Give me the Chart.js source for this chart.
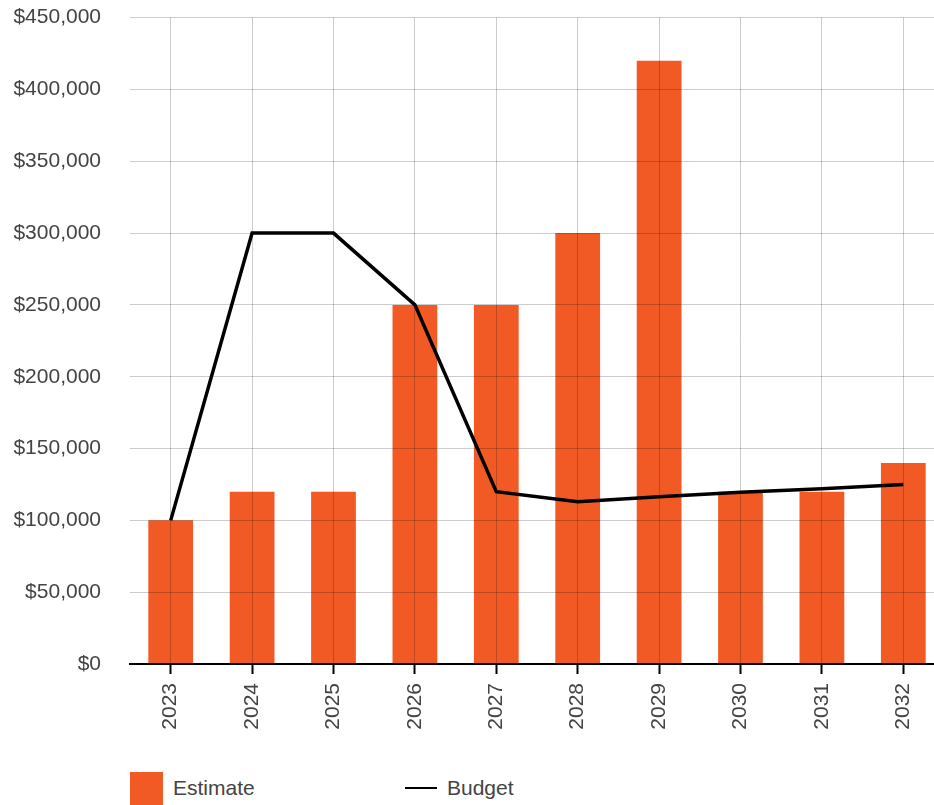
<!DOCTYPE html>
<html>
<head>
<meta charset="utf-8">
<script src="https://cdn.jsdelivr.net/npm/chart.js@4/dist/chart.umd.min.js"></script>
<style>
    html, body { margin: 0; padding: 0; overflow: hidden; background: #fff; }
    #wrap { position: absolute; left: 0; top: -24px; width: 944px; height: 784px; }
    .legend-item { position: absolute; font: 21px "Liberation Sans", Arial, sans-serif; color: #444; line-height: 24px; }
    .swatch { position: absolute; }
</style>
</head>
<body>
<div id="wrap"><canvas id="chart" width="944" height="784"></canvas></div>
<div id="legend"></div>
<script>
const years = ['2023', '2024', '2025', '2026', '2027', '2028', '2029', '2030', '2031', '2032'];
const estimate = [100000, 120000, 120000, 250000, 250000, 300000, 420000, 120000, 120000, 140000];
const budget = [100000, 300000, 300000, 250000, 120000, 113000, 116500, 119500, 122000, 125000];
const yTicks = [0, 50000, 100000, 150000, 200000, 250000, 300000, 350000, 400000, 450000];

const orange = '#f15a24';
const gridColor = 'rgba(0,0,0,0.2)';
const textColor = '#444';
const font = { family: '"Liberation Sans", Arial, sans-serif', size: 21 };

const chart = new Chart(document.getElementById('chart'), {
    type: 'bar',
    data: {
        labels: years,
        datasets: [
            {
                type: 'line',
                label: 'Budget',
                data: budget,
                borderColor: '#000',
                borderWidth: 3.5,
                pointRadius: 0,
                tension: 0,
                order: 0
            },
            {
                label: 'Estimate',
                data: estimate,
                backgroundColor: orange,
                barPercentage: 0.55,
                categoryPercentage: 1,
                order: 1
            }
        ]
    },
    options: {
        responsive: false,
        animation: false,
        layout: { padding: { top: 17, right: 0, left: 0, bottom: 0 } },
        plugins: { legend: { display: false }, tooltip: { enabled: false } },
        scales: {
            x: {
                offset: true,
                grid: { offset: false, color: gridColor, z: 1, tickLength: 10, tickColor: '#000', tickWidth: 2 },
                border: { color: '#000', width: 2, z: 1 },
                ticks: { color: textColor, font, minRotation: 90, maxRotation: 90, padding: 9 },
                afterFit: s => { s.height = 96; }
            },
            y: {
                min: 0,
                max: 450000,
                afterBuildTicks: s => { s.ticks = yTicks.map(v => ({ value: v })); },
                grid: { color: gridColor, z: 1, drawTicks: false },
                border: { display: false },
                ticks: {
                    color: textColor,
                    font,
                    padding: 29,
                    callback: v => '$' + v.toLocaleString('en-US')
                },
                afterFit: s => { s.width = 130; }
            }
        }
    }
});

// legend built from the dataset labels
const legend = document.getElementById('legend');
legend.innerHTML = `
    <div class="swatch" style="left:130px;top:772px;width:33px;height:33px;background:${orange}"></div>
    <div class="legend-item" style="left:173px;top:776px">${chart.data.datasets[1].label}</div>
    <div class="swatch" style="left:405px;top:787px;width:32px;height:2px;background:#000"></div>
    <div class="legend-item" style="left:447px;top:776px">${chart.data.datasets[0].label}</div>
`;
</script>
</body>
</html>
